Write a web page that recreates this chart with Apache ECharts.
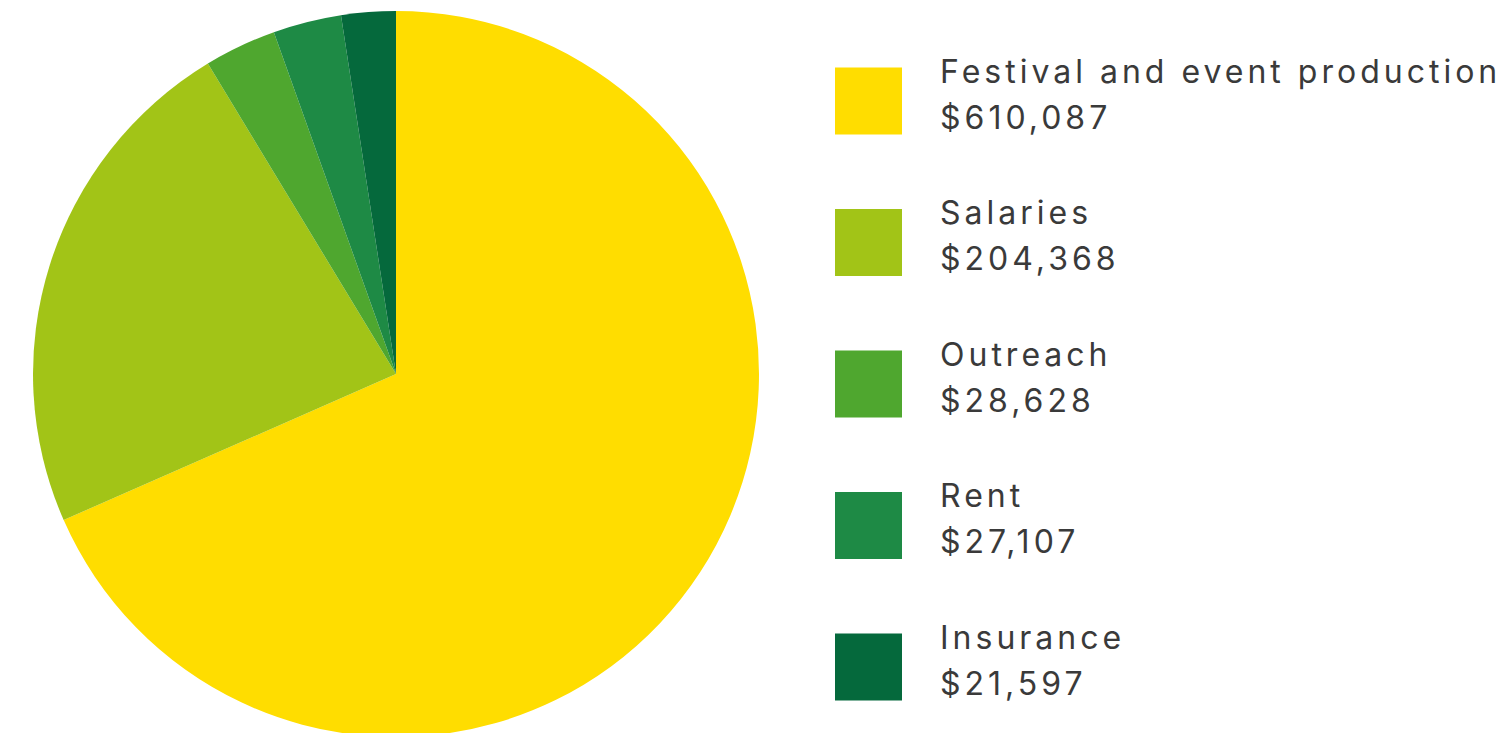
<!DOCTYPE html>
<html>
<head>
<meta charset="utf-8">
<script src="https://cdn.jsdelivr.net/npm/echarts@6/dist/echarts.min.js"></script>
<style>
html,body{margin:0;padding:0;background:#fff;}
#chart{width:1510px;height:733px;}
#chart text{letter-spacing:4px;}
</style>
</head>
<body>
<div id="chart"></div>
<script>
const categories = ['Festival and event production', 'Salaries', 'Outreach', 'Rent', 'Insurance'];
const values = [610087, 204368, 28628, 27107, 21597];
const colors = ['#FFDD00', '#A2C417', '#4FA72F', '#1E8A45', '#05693C'];

const data = categories.map((c, i) => ({ name: c, value: values[i], itemStyle: { color: colors[i] } }));
const fmt = v => '$' + v.toLocaleString('en-US');

const chart = echarts.init(document.getElementById('chart'), null, { renderer: 'svg' });
chart.setOption({
  animation: false,
  legend: {
    orient: 'vertical',
    left: 835,
    top: 55,
    padding: 0,
    icon: 'rect',
    itemWidth: 67,
    itemHeight: 67,
    itemGap: 62,
    selectedMode: false,
    data: categories,
    formatter: name => '{n|' + name + '}\n{v|' + fmt(values[categories.indexOf(name)]) + '}',
    textStyle: {
      padding: [0, 0, 14, 33],
      rich: {
        n: { fontFamily: 'Inter', fontSize: 32, lineHeight: 46, color: '#3a3a3a' },
        v: { fontFamily: 'Inter', fontSize: 32, lineHeight: 46, color: '#3a3a3a' }
      }
    }
  },
  series: [{
    type: 'pie',
    center: [396, 374],
    radius: 363,
    startAngle: 90,
    clockwise: true,
    label: { show: false },
    labelLine: { show: false },
    emphasis: { disabled: true },
    itemStyle: { borderWidth: 0 },
    data: data
  }]
});
</script>
</body>
</html>
